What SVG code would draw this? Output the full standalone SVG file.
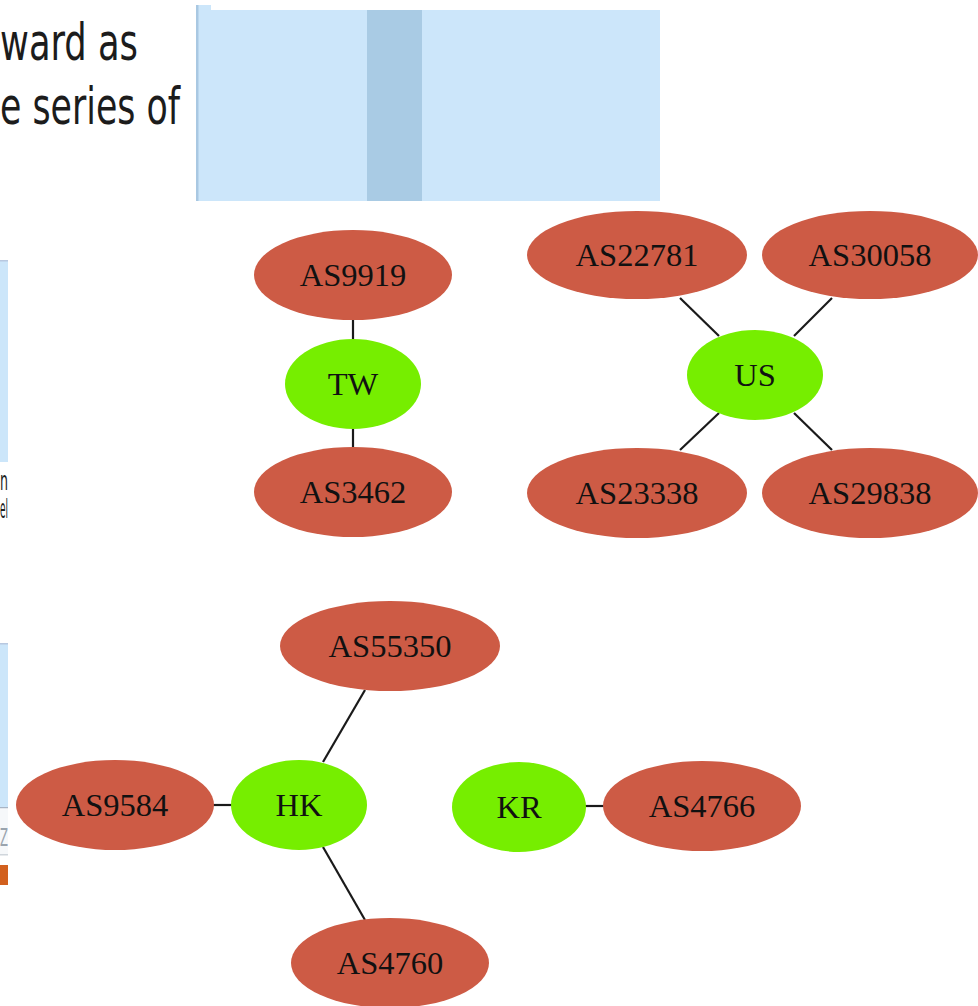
<svg xmlns="http://www.w3.org/2000/svg" width="978" height="1006" viewBox="0 0 978 1006">
<style>
.as{fill:#CD5B45;}
.cc{fill:#76EE00;}
.lbl{font-family:"Liberation Serif","Times New Roman",serif;font-size:32.5px;fill:#111;text-anchor:middle;}
.edge{stroke:#1a1a1a;stroke-width:2.2;fill:none;}
.bg{font-family:"DejaVu Sans Condensed","DejaVu Sans",sans-serif;fill:#1c1c1c;}
</style>
<rect width="978" height="1006" fill="#ffffff"/>
<g id="background">
  <rect x="196" y="10" width="464" height="191" fill="#cce6fa"/>
  <rect x="196" y="5" width="15" height="6" fill="#cce6fa"/>
  <rect x="196" y="5" width="2.5" height="196" fill="#a9c8e2"/>
  <rect x="367" y="10" width="55" height="191" fill="#a9cbe4"/>
  <text class="bg" x="0" y="60" font-size="52" textLength="138" lengthAdjust="spacingAndGlyphs">ward as</text>
  <text class="bg" x="0" y="124" font-size="52" textLength="180" lengthAdjust="spacingAndGlyphs">e series of</text>
  <rect x="0" y="260" width="8" height="202" fill="#cce6fa"/>
  <rect x="0" y="260" width="8" height="1.5" fill="#b8c8e0"/>
  <text class="bg" x="0" y="490" font-size="26" textLength="8" lengthAdjust="spacingAndGlyphs">n</text>
  <text class="bg" x="0" y="518" font-size="26" textLength="8" lengthAdjust="spacingAndGlyphs">el</text>
  <rect x="0" y="643" width="8" height="164" fill="#cce6fa"/>
  <rect x="0" y="643" width="8" height="1.5" fill="#b8c8e0"/>
  <rect x="0" y="807" width="8" height="1.5" fill="#a8b4c4"/>
  <rect x="0" y="808.5" width="8" height="46" fill="#f6f8fa"/>
  <text x="0" y="846" font-family="DejaVu Sans, sans-serif" font-size="24" fill="#9aa4ae" textLength="8" lengthAdjust="spacingAndGlyphs">Z</text>
  <rect x="0" y="854" width="8" height="1.5" fill="#d0d6dc"/>
  <rect x="0" y="865" width="8" height="20" fill="#d2601e"/>
</g>
<g id="connectors">
  <line class="edge" x1="353" y1="320" x2="353" y2="340"/>
  <line class="edge" x1="353" y1="428" x2="353" y2="447"/>
  <line class="edge" x1="680" y1="298" x2="719" y2="336"/>
  <line class="edge" x1="832" y1="298" x2="794" y2="336"/>
  <line class="edge" x1="719" y1="413" x2="680" y2="450"/>
  <line class="edge" x1="794" y1="413" x2="832" y2="450"/>
  <line class="edge" x1="213" y1="805" x2="232" y2="805"/>
  <line class="edge" x1="323" y1="762" x2="365" y2="690"/>
  <line class="edge" x1="323" y1="847" x2="365" y2="920"/>
  <line class="edge" x1="585" y1="806" x2="604" y2="806"/>
</g>
<g id="AS9919"><ellipse class="as" cx="353" cy="275" rx="99" ry="45"/><text class="lbl" x="353" y="286">AS9919</text></g>
<g id="TW"><ellipse class="cc" cx="353" cy="384" rx="68" ry="45"/><text class="lbl" x="353" y="395">TW</text></g>
<g id="AS3462"><ellipse class="as" cx="353" cy="492" rx="99" ry="45"/><text class="lbl" x="353" y="503">AS3462</text></g>
<g id="AS22781"><ellipse class="as" cx="637" cy="255" rx="110" ry="44"/><text class="lbl" x="637" y="266">AS22781</text></g>
<g id="AS30058"><ellipse class="as" cx="870" cy="255" rx="108" ry="44"/><text class="lbl" x="870" y="266">AS30058</text></g>
<g id="US"><ellipse class="cc" cx="755" cy="375" rx="68" ry="45"/><text class="lbl" x="755" y="386">US</text></g>
<g id="AS23338"><ellipse class="as" cx="637" cy="493" rx="110" ry="45"/><text class="lbl" x="637" y="504">AS23338</text></g>
<g id="AS29838"><ellipse class="as" cx="870" cy="493" rx="108" ry="45"/><text class="lbl" x="870" y="504">AS29838</text></g>
<g id="AS55350"><ellipse class="as" cx="390" cy="646" rx="110" ry="45"/><text class="lbl" x="390" y="657">AS55350</text></g>
<g id="AS9584"><ellipse class="as" cx="115" cy="805" rx="99" ry="45"/><text class="lbl" x="115" y="816">AS9584</text></g>
<g id="HK"><ellipse class="cc" cx="299" cy="805" rx="68" ry="45"/><text class="lbl" x="299" y="816">HK</text></g>
<g id="AS4760"><ellipse class="as" cx="390" cy="963" rx="99" ry="45"/><text class="lbl" x="390" y="974">AS4760</text></g>
<g id="KR"><ellipse class="cc" cx="519" cy="807" rx="67" ry="45"/><text class="lbl" x="519" y="818">KR</text></g>
<g id="AS4766"><ellipse class="as" cx="702" cy="806" rx="99" ry="45"/><text class="lbl" x="702" y="817">AS4766</text></g>
</svg>
